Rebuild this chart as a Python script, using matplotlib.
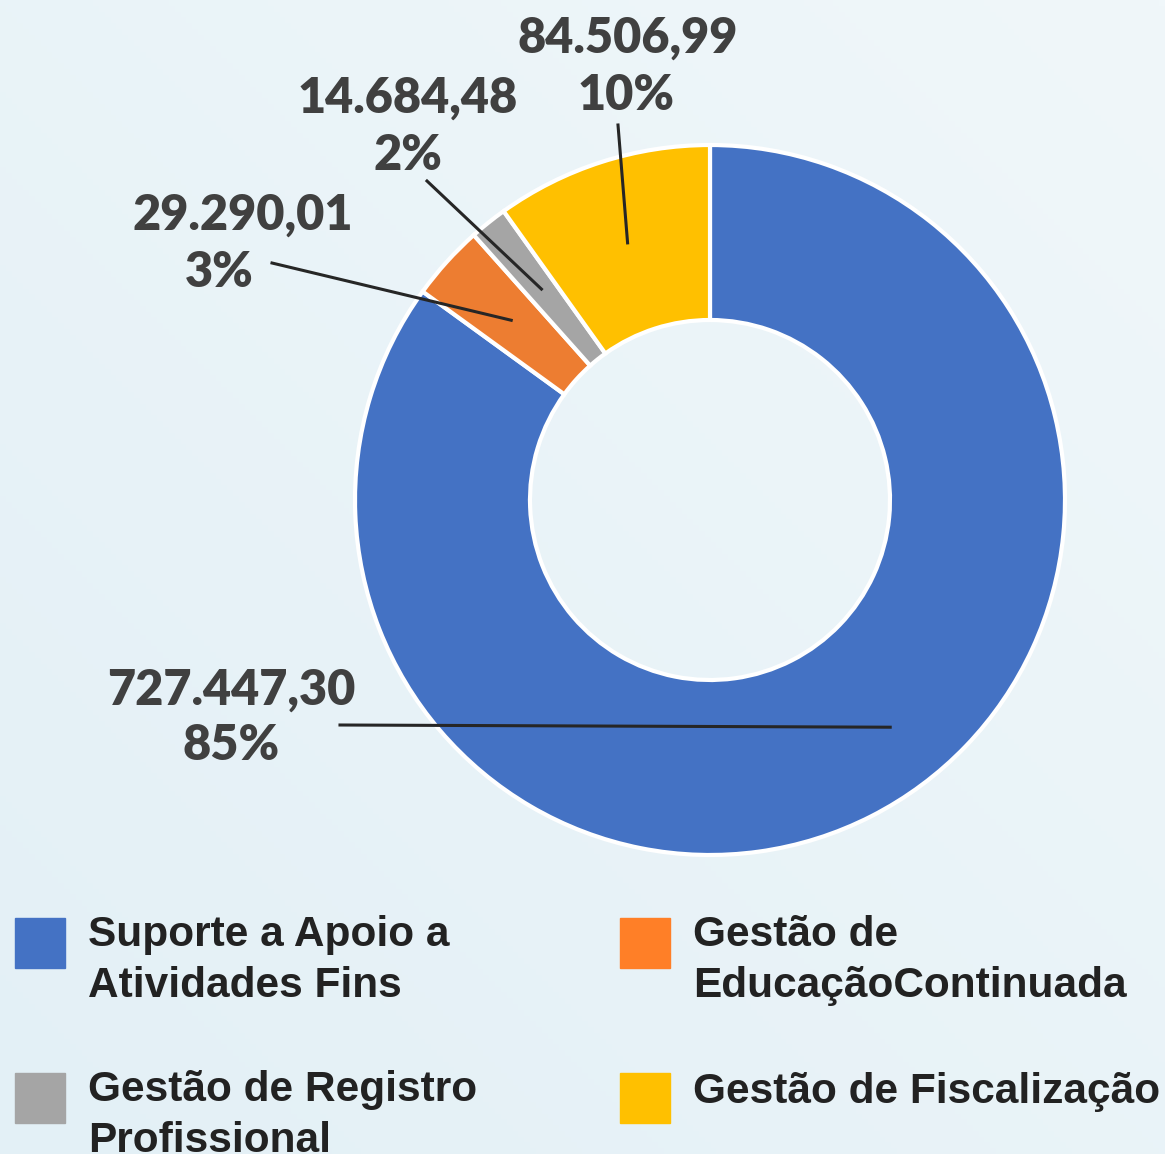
import numpy as np
import matplotlib.pyplot as plt
from matplotlib.patches import Rectangle

# data
categories = ["Suporte a Apoio a\nAtividades Fins", "Gestão de\nEducaçãoContinuada",
              "Gestão de Registro\nProfissional", "Gestão de Fiscalização"]
values = [727447.30, 29290.01, 14684.48, 84506.99]
value_labels = ["727.447,30", "29.290,01", "14.684,48", "84.506,99"]
pct_labels = ["85%", "3%", "2%", "10%"]
colors = ["#4472C4", "#ED7D31", "#A5A5A5", "#FFC000"]
legend_colors = ["#4472C4", "#FF7F27", "#A5A5A5", "#FFC000"]

W, H = 1165, 1154
fig = plt.figure(figsize=(W / 100, H / 100), dpi=100)
ax = fig.add_axes([0, 0, 1, 1])

# soft background gradient
gx, gy = np.meshgrid(np.linspace(0, 1, 200), np.linspace(0, 1, 200))
grad = 0.5 * gx + 0.5 * gy
bg = np.zeros((200, 200, 3))
c0 = np.array([0xe3, 0xf0, 0xf6]) / 255
c1 = np.array([0xf0, 0xf7, 0xfa]) / 255
for k in range(3):
    bg[..., k] = c0[k] + (c1[k] - c0[k]) * grad
ax.imshow(bg, extent=[0, W, H, 0], origin="upper", zorder=0, aspect="auto")

cx, cy, R = 710, H - 500, 355
wedges, _ = ax.pie(values, colors=colors, startangle=90, counterclock=False,
                   center=(cx, cy), radius=R, frame=True,
                   wedgeprops=dict(width=175, edgecolor="white", linewidth=3))
ax.set_xlim(0, W)
ax.set_ylim(0, H)
ax.axis("off")
ax.set_aspect("auto")

# label layout: (line1 x, line1 baseline, line2 x, line2 baseline, leader start, anchor angle shift, anchor radius)
layout = [
    (231, 705, 231, 760, (340, 725), 11.4, 290),
    (243, 230, 219, 287, (272, 263), 0, 268),
    (408, 113, 408, 170, (427, 181), 0, 270),
    (628, 53, 626, 110, (618, 125), 0, 270),
]
lab_font = dict(family="Lato", weight="heavy", size=35, color="#404040")
for w, vl, pl, lay in zip(wedges, value_labels, pct_labels, layout):
    x1, y1, x2, y2, start, shift, rr = lay
    ang = np.deg2rad((w.theta1 + w.theta2) / 2 + shift)
    ex, ey = cx + rr * np.cos(ang), cy + rr * np.sin(ang)
    ax.plot([start[0], ex], [H - start[1], ey], color="#262626", lw=2.2, zorder=5)
    ax.text(x1, H - y1, vl, ha="center", va="baseline", zorder=6, **lab_font)
    ax.text(x2, H - y2, pl, ha="center", va="baseline", zorder=6, **lab_font)

# legend drawn by hand; y is the baseline of the last text line
leg_pos = [(15, 918, 997), (620, 918, 997), (15, 1073, 1152), (620, 1073, 1103)]
for (lx, ly, base), name, col in zip(leg_pos, categories, legend_colors):
    ax.add_patch(Rectangle((lx, H - ly - 50), 50, 50, color=col, zorder=5))
    ax.text(lx + 73, H - base, name, ha="left", va="baseline", family="Liberation Sans",
            weight="bold", size=30.5, color="#222222", linespacing=1.36, zorder=6)

fig.savefig("out.png", dpi=100)
